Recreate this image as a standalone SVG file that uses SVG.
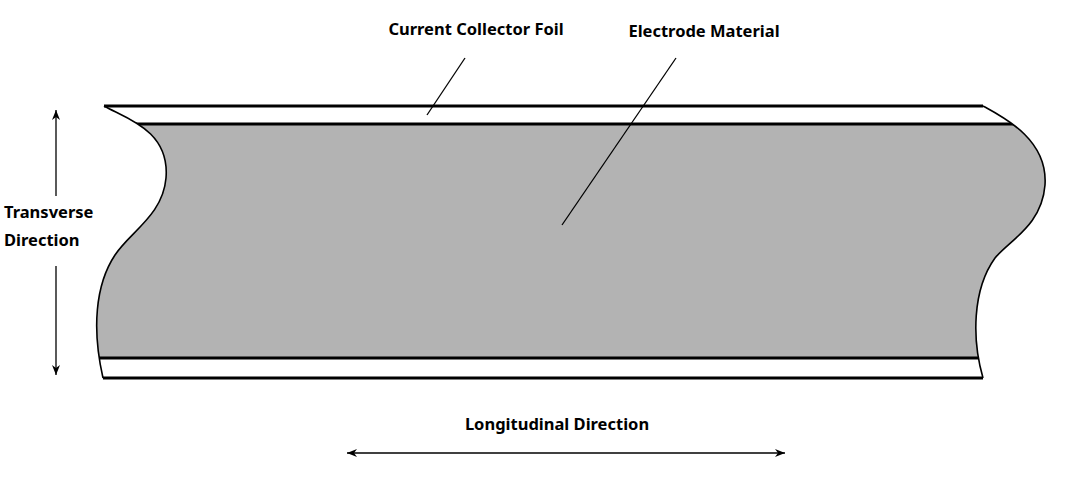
<svg xmlns="http://www.w3.org/2000/svg" width="1080" height="483" viewBox="0 0 1080 483">
<style>
.t{font-family:"Noto Sans","Open Sans",sans-serif;font-weight:bold;font-size:16.5px;fill:#000}
.e{fill:none;stroke:#000;stroke-width:1.6}
.h{stroke:#000;stroke-width:3}
.l{stroke:#000;stroke-width:1.3}
</style>
<defs>
<clipPath id="c"><path d="M104,106 C125,118 170,130 166,178 C163,215 130,232 115,255 C95,285 92,330 103,378 L983,378 C972,340 972,290 995,258 C1010,240 1042,225 1045,185 C1048,140 1005,118 983,106 Z"/></clipPath>
<marker id="a" viewBox="0 0 10 10" refX="10" refY="5" markerWidth="10" markerHeight="10" markerUnits="userSpaceOnUse" orient="auto-start-reverse"><path d="M0,1 L10,5 L0,9 L3,5 Z" fill="#000"/></marker>
</defs>
<g id="electrode">
<g clip-path="url(#c)">
<rect x="80" y="124" width="1000" height="234" fill="#b3b3b3"/>
<line class="h" x1="80" y1="124" x2="1080" y2="124"/>
<line class="h" x1="80" y1="358" x2="1080" y2="358"/>
</g>
<line class="h" x1="104" y1="106" x2="983" y2="106"/>
<line class="h" x1="103" y1="378" x2="983" y2="378"/>
<path class="e" d="M104,106 C125,118 170,130 166,178 C163,215 130,232 115,255 C95,285 92,330 103,378"/>
<path class="e" d="M983,106 C1005,118 1048,140 1045,185 C1042,225 1010,240 995,258 C972,290 972,340 983,378"/>
</g>
<g id="connectors">
<line class="l" x1="465" y1="58" x2="427" y2="115"/>
<line class="l" x1="676" y1="58" x2="562" y2="225"/>
<line class="l" x1="56" y1="196" x2="56" y2="110" marker-end="url(#a)"/>
<line class="l" x1="56" y1="266" x2="56" y2="375" marker-end="url(#a)"/>
<line class="l" x1="347" y1="453" x2="785" y2="453" marker-start="url(#a)" marker-end="url(#a)"/>
</g>
<g id="labels">
<text class="t" x="476" y="35" text-anchor="middle">Current Collector Foil</text>
<text class="t" x="704" y="37" text-anchor="middle">Electrode Material</text>
<text class="t" x="4" y="218">Transverse</text>
<text class="t" x="4" y="246">Direction</text>
<text class="t" x="557" y="430" text-anchor="middle">Longitudinal Direction</text>
</g>
</svg>
